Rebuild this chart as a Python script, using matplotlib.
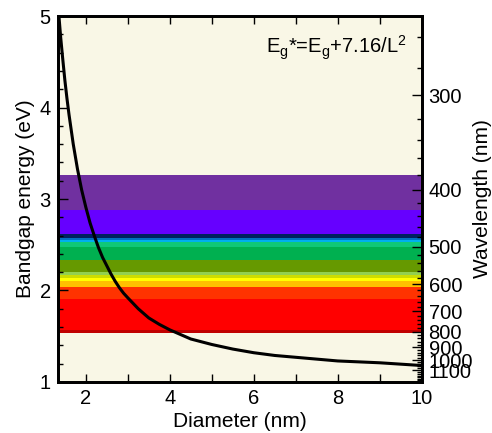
import numpy as np
import matplotlib
matplotlib.use("Agg")
import matplotlib.pyplot as plt

plt.rcParams['font.family'] = ['Liberation Sans', 'DejaVu Sans']
plt.rcParams['mathtext.default'] = 'regular'

# curve: diameter (nm) vs bandgap (eV)
diam = [1.35, 1.4, 1.45, 1.5, 1.55, 1.6, 1.7, 1.8, 1.9, 2.0, 2.1, 2.2, 2.3, 2.4, 2.5, 2.6,
        2.7, 2.8, 2.9, 3.0, 3.25, 3.5, 3.75, 4.0, 4.5, 5.0, 5.5, 6.0, 6.5, 7.0, 8.0, 9.0, 10.0]
gap = [5.05, 4.77, 4.53, 4.30, 4.10, 3.92, 3.60, 3.33, 3.10, 2.91, 2.74, 2.60, 2.47, 2.36,
       2.27, 2.18, 2.10, 2.03, 1.97, 1.92, 1.80, 1.70, 1.63, 1.57, 1.47, 1.41, 1.36, 1.32,
       1.29, 1.27, 1.23, 1.21, 1.18]

# spectrum bands, edges in nm
band_edges = [380, 430, 473, 481, 485, 491, 501, 531, 562, 572, 580, 590, 607, 649, 790, 810]
band_colors = ['#7030A0', '#6600FF', '#002060', '#0070C0', '#00B0F0', '#10C878', '#00B050',
               '#669900', '#92D050', '#CCDD00', '#FFFF00', '#FFC000', '#FF3300', '#FF0000',
               '#C00000']

wl_major = [300, 400, 500, 600, 700, 800, 900, 1000, 1100]
wl_minor = [w for w in range(260, 1240, 20) if w not in wl_major]

fig = plt.figure(figsize=(4.92, 4.33), dpi=100)
ax = fig.add_axes([0.1173, 0.1178, 0.7397, 0.8452])
ax.set_facecolor('#F9F7E6')

for i, c in enumerate(band_colors):
    ax.axhspan(1240 / band_edges[i + 1], 1240 / band_edges[i], color=c, lw=0, zorder=1)

ax.plot(diam, gap, color='black', lw=2.2, zorder=3, solid_joinstyle='round')

ax.set_xlim(1.33, 10)
ax.set_ylim(1, 5)
ax.set_xticks([2, 4, 6, 8, 10])
ax.set_xticks([3, 5, 7, 9], minor=True)
ax.set_yticks([1, 2, 3, 4, 5])
ax.set_yticks(np.arange(1, 5.01, 0.2), minor=True)
ax.tick_params(axis='x', which='both', direction='in', top=True, length=6, width=1,
               labelsize=14.5, pad=5)
ax.tick_params(axis='y', which='major', direction='in', length=7, width=1, labelsize=14.5, pad=5)
ax.tick_params(axis='y', which='minor', direction='in', length=3.5, width=1)
ax.set_xlabel('Diameter (nm)', fontsize=15, labelpad=3)
ax.set_ylabel('Bandgap energy (eV)', fontsize=15, labelpad=3)

ax2 = ax.twinx()
ax2.set_ylim(1, 5)
ax2.set_yticks([1240 / w for w in wl_major])
ax2.set_yticklabels([str(w) for w in wl_major])
ax2.set_yticks([1240 / w for w in wl_minor], minor=True)
ax2.tick_params(axis='y', which='major', direction='in', length=7, width=1, labelsize=14.5, pad=5)
ax2.tick_params(axis='y', which='minor', direction='in', length=3.5, width=1)
ax2.set_ylabel('Wavelength (nm)', fontsize=15, labelpad=0)

for a in (ax, ax2):
    for s in a.spines.values():
        s.set_linewidth(2)
        s.set_zorder(5)

ax.text(0.96, 0.912, r'E$_g$*=E$_g$+7.16/L$^2$', transform=ax.transAxes,
        ha='right', va='center', fontsize=14.5, zorder=4)

fig.savefig('out.png', dpi=100)
